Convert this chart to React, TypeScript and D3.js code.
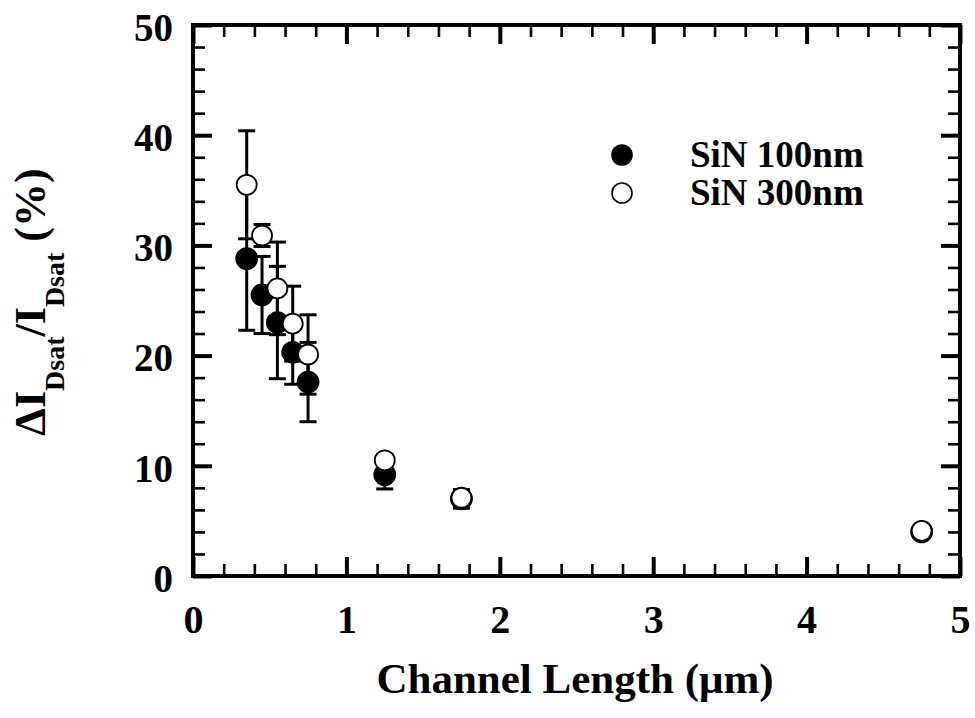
import React, { useEffect, useRef } from 'react';
import * as d3 from 'd3';

// channel length (um)
const lengths = [0.35, 0.45, 0.55, 0.65, 0.75, 1.25, 1.75, 4.75];
// SiN 100nm (filled)
const sin100 = [28.8, 25.5, 23.0, 20.3, 17.6, 9.2, 7.0, 4.0];
const sin100Err = [6.5, 3.5, 5.1, 2.9, 3.6, 1.3, 0.85, 0.3];
// SiN 300nm (open)
const sin300 = [35.5, 30.9, 26.1, 22.9, 20.1, 10.5, 7.1, 4.1];
const sin300Err = [4.9, 1.0, 4.2, 3.4, 3.6, 0.5, 0.6, 0.3];

const xTicks = [0, 1, 2, 3, 4, 5];
const yTicks = [0, 10, 20, 30, 40, 50];

const FONT = '"Liberation Serif", "Times New Roman", serif';

const App = () => {
  const ref = useRef<SVGSVGElement>(null);

  useEffect(() => {
    const svg = d3.select(ref.current);
    svg.selectAll('*').remove();

    const left = 193, right = 960, top = 25, bottom = 576;
    const x = d3.scaleLinear().domain([0, 5]).range([left, right]);
    const y = d3.scaleLinear().domain([0, 50]).range([bottom, top]);

    const xMinor = d3.range(0, 5.001, 0.2).filter(v => Math.abs(v - Math.round(v)) > 0.01);
    const yMinor = d3.range(0, 50.01, 2).filter(v => v % 10 !== 0);

    const styleAxis = (g, w) => {
      g.select('.domain').remove();
      g.selectAll('line').attr('stroke', '#000').attr('stroke-width', w);
      g.selectAll('text').attr('font-family', FONT).attr('font-weight', 'bold').attr('fill', '#000');
    };

    // bottom
    svg.append('g').attr('transform', `translate(0,${bottom})`)
      .call(d3.axisBottom(x).tickValues(xMinor).tickSize(-12).tickFormat(() => ''))
      .call(g => styleAxis(g, 2.6));
    svg.append('g').attr('transform', `translate(0,${bottom})`)
      .call(d3.axisBottom(x).tickValues(xTicks).tickSize(-19).tickPadding(29).tickFormat(d3.format('d')))
      .call(g => styleAxis(g, 4))
      .call(g => g.selectAll('text').attr('font-size', 40));
    // top
    svg.append('g').attr('transform', `translate(0,${top})`)
      .call(d3.axisTop(x).tickValues(xMinor).tickSize(-12).tickFormat(() => ''))
      .call(g => styleAxis(g, 2.6));
    svg.append('g').attr('transform', `translate(0,${top})`)
      .call(d3.axisTop(x).tickValues(xTicks).tickSize(-19).tickFormat(() => ''))
      .call(g => styleAxis(g, 4));
    // left
    svg.append('g').attr('transform', `translate(${left},0)`)
      .call(d3.axisLeft(y).tickValues(yMinor).tickSize(-12).tickFormat(() => ''))
      .call(g => styleAxis(g, 2.6));
    svg.append('g').attr('transform', `translate(${left},0)`)
      .call(d3.axisLeft(y).tickValues(yTicks).tickSize(-19).tickPadding(20).tickFormat(d3.format('d')))
      .call(g => styleAxis(g, 4))
      .call(g => g.selectAll('text').attr('font-size', 39).attr('dy', '0.39em'));
    // right
    svg.append('g').attr('transform', `translate(${right},0)`)
      .call(d3.axisRight(y).tickValues(yMinor).tickSize(-12).tickFormat(() => ''))
      .call(g => styleAxis(g, 2.6));
    svg.append('g').attr('transform', `translate(${right},0)`)
      .call(d3.axisRight(y).tickValues(yTicks).tickSize(-19).tickFormat(() => ''))
      .call(g => styleAxis(g, 4));

    // frame
    svg.append('rect')
      .attr('x', left).attr('y', top)
      .attr('width', right - left).attr('height', bottom - top)
      .attr('fill', 'none').attr('stroke', '#000').attr('stroke-width', 4);

    const series = [
      { vals: sin100, err: sin100Err, fill: '#000', r: 10.5 },
      { vals: sin300, err: sin300Err, fill: '#fff', r: 10 },
    ];
    const cap = 8.5;

    series.forEach(s => {
      const pts = lengths.map((l, i) => ({ l, v: s.vals[i], e: s.err[i] }));
      const eb = svg.append('g').attr('stroke', '#000').attr('stroke-width', 3);
      eb.selectAll('line.v').data(pts).enter().append('line')
        .attr('x1', d => x(d.l)).attr('x2', d => x(d.l))
        .attr('y1', d => y(d.v - d.e)).attr('y2', d => y(d.v + d.e));
      eb.selectAll('line.t').data(pts).enter().append('line')
        .attr('x1', d => x(d.l) - cap).attr('x2', d => x(d.l) + cap)
        .attr('y1', d => y(d.v + d.e)).attr('y2', d => y(d.v + d.e));
      eb.selectAll('line.b').data(pts).enter().append('line')
        .attr('x1', d => x(d.l) - cap).attr('x2', d => x(d.l) + cap)
        .attr('y1', d => y(d.v - d.e)).attr('y2', d => y(d.v - d.e));
      svg.append('g').selectAll('circle').data(pts).enter().append('circle')
        .attr('cx', d => x(d.l)).attr('cy', d => y(d.v))
        .attr('r', s.r).attr('fill', s.fill)
        .attr('stroke', '#000').attr('stroke-width', 1.8);
    });

    // legend
    const legend = [
      { label: 'SiN 100nm', fill: '#000' },
      { label: 'SiN 300nm', fill: '#fff' },
    ];
    legend.forEach((d, i) => {
      const cy = 155 + i * 38;
      svg.append('circle').attr('cx', 622).attr('cy', cy).attr('r', 10)
        .attr('fill', d.fill).attr('stroke', '#000').attr('stroke-width', 1.6);
      svg.append('text').attr('x', 690).attr('y', cy + 12)
        .attr('font-family', FONT).attr('font-weight', 'bold').attr('font-size', 37)
        .text(d.label);
    });

    // x label
    svg.append('text').attr('x', 575).attr('y', 693)
      .attr('text-anchor', 'middle')
      .attr('font-family', FONT).attr('font-weight', 'bold').attr('font-size', 43)
      .text('Channel Length (μm)');

    // y label
    const yl = svg.append('text')
      .attr('transform', 'translate(45,302) rotate(-90)')
      .attr('text-anchor', 'middle')
      .attr('font-family', FONT).attr('font-weight', 'bold').attr('font-size', 44);
    yl.append('tspan').text('ΔI');
    yl.append('tspan').attr('font-size', 28).attr('dy', 19).text('Dsat');
    yl.append('tspan').attr('dy', -19).text('/I');
    yl.append('tspan').attr('font-size', 28).attr('dy', 19).text('Dsat');
    yl.append('tspan').attr('dy', -19).text(' (%)');
  }, []);

  return (
    <svg ref={ref} width={975} height={718}
      style={{ position: 'absolute', left: 0, top: 0, background: '#fff' }} />
  );
};

export default App;
